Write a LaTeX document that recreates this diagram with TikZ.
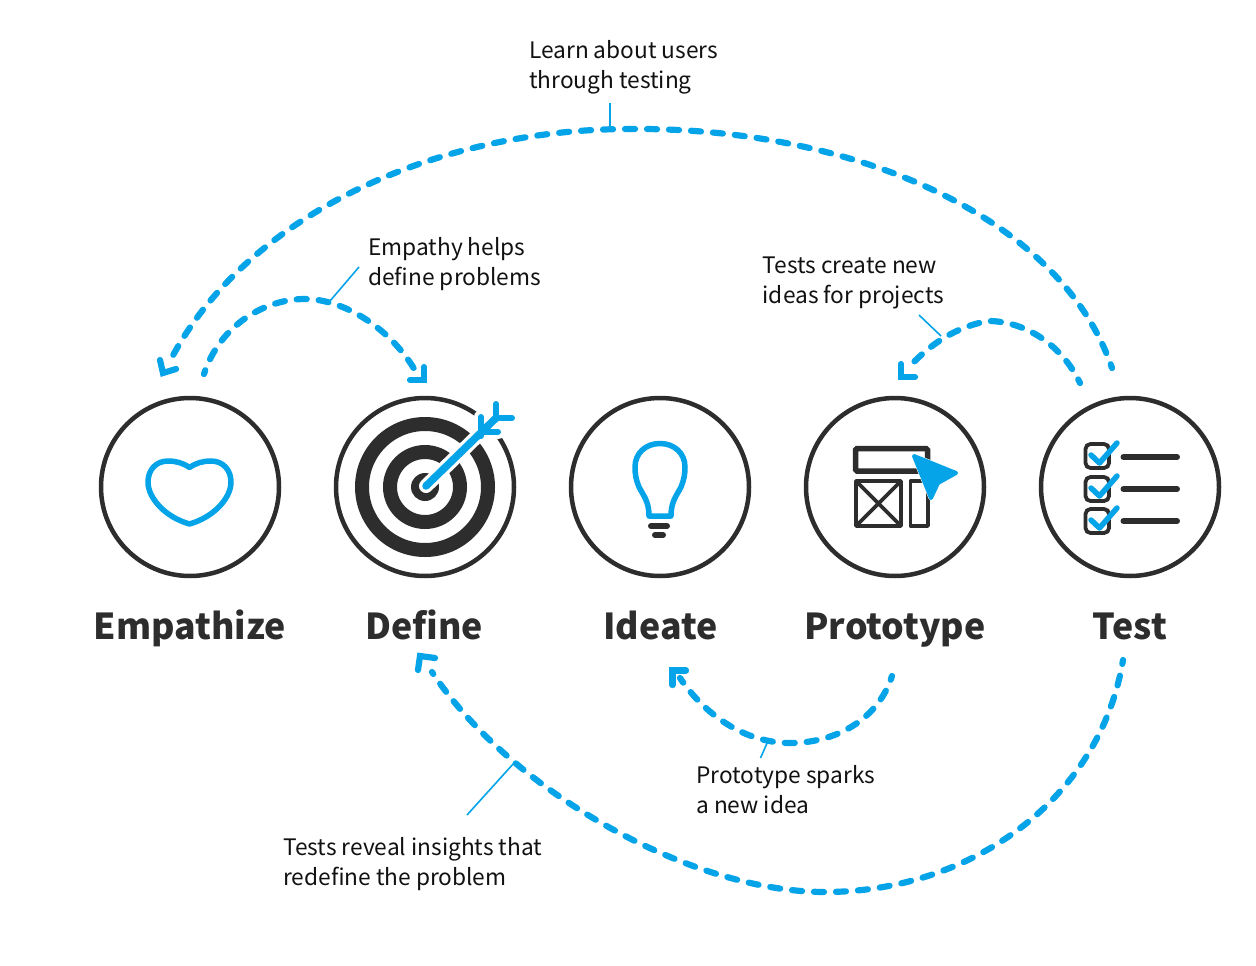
\documentclass[tikz,border=0pt]{standalone}
\usepackage{fontspec}
\setmainfont{Noto Sans CJK JP}
\usetikzlibrary{arrows.meta}
\definecolor{skyb}{HTML}{05A3E8}
\definecolor{ink}{HTML}{2D2D2D}
\definecolor{txt}{HTML}{111111}
\tikzset{
  stagecircle/.style={circle,draw=ink,line width=4.5pt,minimum size=178pt,inner sep=0pt,fill=white},
  stagename/.style={font=\fontsize{35.7}{36}\selectfont\bfseries,text=ink,inner sep=0pt,anchor=base},
  notetext/.style={font=\fontsize{22.7}{30}\selectfont,text=txt,align=left,inner sep=0pt,anchor=north west},
  flow/.style={draw=skyb,line width=6.2pt,line cap=round,dash pattern=on 10pt off 12pt},
  flowhead/.style={draw=skyb,line width=6.2pt,line cap=round,line join=miter,fill=none},
  leader/.style={draw=skyb,line width=1.6pt},
  iconblue/.style={draw=skyb,line cap=round,line join=round,fill=none},
  iconink/.style={draw=ink,line cap=round,fill=none}
}
\begin{document}
\begin{tikzpicture}[x=1pt,y=-1pt]
\useasboundingbox (0,0) rectangle (1256,966);
% stages
\node[stagecircle] (emp) at (190,487) {};
\node[stagecircle] (def) at (425,487) {};
\node[stagecircle] (ide) at (660,487) {};
\node[stagecircle] (pro) at (895,487) {};
\node[stagecircle] (tes) at (1130,487) {};
\node[stagename] (empL) at (190,639) {Empathize};
\node[stagename] (defL) at (424,639) {Define};
\node[stagename] (ideL) at (660.5,639) {Ideate};
\node[stagename] (proL) at (895,639) {Prototype};
\node[stagename] (tesL) at (1130,639) {Test};
% notes
\node[notetext] (n1) at (529,40) {Learn about users\\through testing};
\node[notetext] (n2) at (368,237) {Empathy helps\\define problems};
\node[notetext] (n3) at (762.5,257) {Tests create new\\ideas for projects};
\node[notetext] (n4) at (696,765) {Prototype sparks\\a new idea};
\node[notetext] (n5) at (283,837) {Tests reveal insights that\\redefine the problem};
% heart
\draw[iconblue,line width=5.5pt] (189.5,467.5) .. controls (183,463) and (176,461) .. (168,461)
  .. controls (156,461) and (148,470) .. (148,482) .. controls (148,498) and (165,517) .. (189.5,524)
  .. controls (214,517) and (231,498) .. (231,482) .. controls (231,470) and (223,461) .. (211,461)
  .. controls (203,461) and (196,463) .. (189.5,467.5) -- cycle;
% target
\draw[ink,line width=14pt] (def.center) circle[radius=63pt];
\draw[ink,line width=14pt] (def.center) circle[radius=35pt];
\fill[ink] (def.center) circle[radius=14pt];
\draw[white,line width=14pt,line cap=round] (426,486) -- (496,418);
\draw[white,line width=14pt,line cap=round] (481,417) -- (481,436) (481,432) -- (498,432) (496,404) -- (496,418) -- (512,418);
\draw[iconblue,line width=7.5pt] (426,486) -- (496,418);
\draw[iconblue,line width=6pt] (481,417) -- (481,436) (481,432) -- (498,432) (496,404) -- (496,418) -- (512,418);
% bulb
\draw[iconblue,line width=5.5pt] (649,516) -- (671,516) .. controls (671,501) and (677,495) .. (681,487)
  .. controls (684,480) and (685,474) .. (685,467) .. controls (685,453) and (674,443.5) .. (660,443.5)
  .. controls (646,443.5) and (635,453) .. (635,467) .. controls (635,474) and (636,480) .. (639,487)
  .. controls (643,495) and (649,501) .. (649,516) -- cycle;
\draw[iconink,line width=6pt] (651,526) -- (667,526);
\draw[iconink,line width=6pt] (655,535) -- (663,535);
% prototype
\draw[draw=ink,line width=5.5pt,rounded corners=1.5pt] (855.5,448.5) rectangle (927.5,471);
\draw[draw=ink,line width=3.8pt,line join=round] (856,481) rectangle (901,526);
\draw[draw=ink,line width=3.8pt] (856,481) -- (901,526) (901,481) -- (856,526);
\draw[draw=ink,line width=3.8pt,line join=round] (910.5,481) rectangle (928,526);
\draw[draw=white,fill=white,line width=5pt,line join=round] (914,456) -- (956,473) -- (938,483) -- (931,498) -- cycle;
\draw[draw=skyb,fill=skyb,line width=4pt,line join=round] (914,456) -- (956,473) -- (938,483) -- (931,498) -- cycle;
% test
\foreach \yy/\ll in {456/457,489/489,521/521}{
  \draw[draw=ink,line width=3.8pt,rounded corners=5pt] (1085.5,\yy-12) rectangle (1109,\yy+12);
  \draw[iconink,line width=6pt] (1123.5,\ll) -- (1177,\ll);
  \draw[iconblue,line width=5.5pt] (1091,\yy-1) -- (1099.5,\yy+7) -- (1117,\yy-13);
}
% flow curves
\coordinate (a1) at (1112,368);\coordinate (a2) at (630,129);\coordinate (a3) at (168,365);
\draw[flow,dash phase=6pt] (a1) .. controls (1060,215) and (850,127) .. (a2) .. controls (430,129) and (240,220) .. (a3);
\draw[flowhead] (160,360) -- (163,373) -- (176,369);
\coordinate (b1) at (204,374);\coordinate (b2) at (305,299);\coordinate (b3) at (416,372);
\draw[flow,dash phase=6pt] (b1) .. controls (220,325) and (265,299) .. (b2) .. controls (345,299) and (392,330) .. (b3);
\draw[flowhead] (410,380) -- (424,380) -- (424,367);
\coordinate (c1) at (1080,383);\coordinate (c2) at (988,321);\coordinate (c3) at (909,367);
\draw[flow,dash phase=6pt] (c1) .. controls (1062,345) and (1025,321) .. (c2) .. controls (950,328) and (925,350) .. (c3);
\draw[flowhead] (901,364) -- (901,377) -- (915,377);
\coordinate (d1) at (892,676);\coordinate (d2) at (790,743);\coordinate (d3) at (680,678);
\draw[flow,dash phase=6pt] (d1) .. controls (878,720) and (835,743) .. (d2) .. controls (745,743) and (705,715) .. (d3);
\draw[flowhead] (672.5,685) -- (672.5,670.5) -- (686,670.5);
\coordinate (e1) at (1123,660);\coordinate (e2) at (825,892);\coordinate (e3) at (432,672);
\draw[flow,dash phase=6pt] (e1) .. controls (1100,800) and (970,892) .. (e2) .. controls (690,892) and (510,790) .. (e3);
\draw[flowhead] (418,670) -- (420,656) -- (435,658);
% leaders
\coordinate (l1a) at (610,103);\coordinate (l1b) at (610,130);
\coordinate (l2a) at (359,267);\coordinate (l2b) at (330,301);
\coordinate (l3a) at (919,315);\coordinate (l3b) at (941,336);
\coordinate (l4a) at (760.5,758);\coordinate (l4b) at (768,741);
\coordinate (l5a) at (467,815);\coordinate (l5b) at (514,763);
\draw[leader] (l1a) -- (l1b);
\draw[leader] (l2a) -- (l2b);
\draw[leader] (l3a) -- (l3b);
\draw[leader] (l4a) -- (l4b);
\draw[leader] (l5a) -- (l5b);
\end{tikzpicture}
\end{document}
